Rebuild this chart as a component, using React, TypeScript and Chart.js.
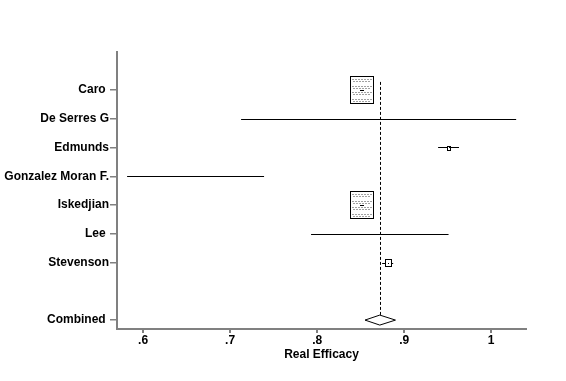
import React, { useEffect, useRef } from "react";
import { Chart, registerables } from "chart.js";

Chart.register(...registerables);

const studies = ["Caro ", "De Serres G", "Edmunds", "Gonzalez Moran F.", "Iskedjian", "Lee ", "Stevenson"];
const rows = [1, 2, 3, 4, 5, 6, 7];
const estimates = [0.851, null, 0.951, null, 0.851, null, 0.881];
const lower = [0.846, 0.7126, 0.939, 0.5816, 0.846, 0.793, 0.8747];
const upper = [0.856, 1.0287, 0.963, 0.739, 0.856, 0.951, 0.8874];
const weights = [100, 0, 2, 0, 100, 0, 7];
const combinedLabel = "Combined ";
const combinedRow = 9;
const combinedEst = 0.872;
const combinedLower = 0.855;
const combinedUpper = 0.89;
const xTicks = [0.6, 0.7, 0.8, 0.9, 1.0];
const xTickLabels = [".6", ".7", ".8", ".9", "1"];

const FONT = "'Liberation Sans', Arial, sans-serif";

const forestPlugin = {
  id: "forest",
  afterDatasetsDraw(chart: any) {
    const ctx = chart.ctx;
    const xs = chart.scales.x;
    const ys = chart.scales.y;
    const area = chart.chartArea;
    ctx.save();
    ctx.beginPath();
    ctx.rect(area.left + 1, area.top, area.right - area.left, area.bottom - area.top - 1);
    ctx.clip();
    // dashed reference line
    const xc = Math.round(xs.getPixelForValue(combinedEst)) + 0.5;
    ctx.strokeStyle = "#000";
    ctx.lineWidth = 1;
    ctx.setLineDash([3, 2]);
    ctx.beginPath();
    ctx.moveTo(xc, ys.getPixelForValue(0.72));
    ctx.lineTo(xc, ys.getPixelForValue(combinedRow) - 5);
    ctx.stroke();
    ctx.setLineDash([]);
    // CI lines
    for (let i = 0; i < studies.length; i++) {
      const y = Math.round(ys.getPixelForValue(rows[i])) + 0.5;
      ctx.strokeStyle = "#000";
      ctx.lineWidth = 1;
      ctx.beginPath();
      ctx.moveTo(xs.getPixelForValue(lower[i]), y);
      ctx.lineTo(xs.getPixelForValue(upper[i]), y);
      ctx.stroke();
    }
    // boxes
    for (let i = 0; i < studies.length; i++) {
      const est = estimates[i];
      if (est === null || !weights[i]) continue;
      const y = ys.getPixelForValue(rows[i]);
      const x = xs.getPixelForValue(est);
      const w = Math.max(3, 23 * Math.sqrt(weights[i] / 100));
      const h = w * 1.18;
      const l = Math.round(x - w / 2) + 0.5;
      const t = Math.round(y - h / 2) + 0.5;
      ctx.fillStyle = "#fff";
      ctx.fillRect(l, t, w, h);
      if (w > 15) {
        ctx.strokeStyle = "#444";
        ctx.setLineDash([1, 2]);
        const n = 4;
        for (let k = 0; k < n; k++) {
          const yy = Math.round(t + (h * (k + 0.5)) / n) + 0.5;
          ctx.beginPath();
          ctx.moveTo(l + 2, yy - 1);
          ctx.lineTo(l + w - 2, yy - 1);
          ctx.stroke();
          ctx.beginPath();
          ctx.moveTo(l + 3, yy + 1);
          ctx.lineTo(l + w - 2, yy + 1);
          ctx.stroke();
        }
        ctx.setLineDash([]);
      }
      ctx.strokeStyle = "#000";
      ctx.lineWidth = 1;
      ctx.strokeRect(l, t, Math.round(w), Math.round(h));
      // centre mark
      ctx.fillStyle = "#000";
      if (w > 15) ctx.fillRect(Math.round(x) - 2, Math.round(y), 4, 1);
      else ctx.fillRect(Math.round(x), Math.round(y), 1, 1);
    }
    // diamond
    const yd = ys.getPixelForValue(combinedRow);
    ctx.strokeStyle = "#000";
    ctx.fillStyle = "#fff";
    ctx.beginPath();
    ctx.moveTo(xs.getPixelForValue(combinedLower), yd);
    ctx.lineTo(xs.getPixelForValue(combinedEst), yd - 5);
    ctx.lineTo(xs.getPixelForValue(combinedUpper), yd);
    ctx.lineTo(xs.getPixelForValue(combinedEst), yd + 5);
    ctx.closePath();
    ctx.fill();
    ctx.stroke();
    ctx.restore();
  },
};

export default function App() {
  const ref = useRef<HTMLCanvasElement>(null);
  useEffect(() => {
    const yLabelFor = (v: number) => {
      const idx = rows.indexOf(v);
      if (idx >= 0) return studies[idx];
      if (v === combinedRow) return combinedLabel;
      return "";
    };
    const chart = new Chart(ref.current!, {
      type: "scatter",
      data: { datasets: [{ data: [], pointRadius: 0 }] },
      plugins: [forestPlugin],
      options: {
        animation: false,
        responsive: false,
        devicePixelRatio: 1,
        layout: { padding: { left: 0, right: 40, top: 52, bottom: 19 } },
        plugins: { legend: { display: false }, tooltip: { enabled: false } },
        scales: {
          x: {
            type: "linear",
            min: 0.57,
            max: 1.04,
            afterBuildTicks: (s: any) => {
              s.ticks = xTicks.map((v) => ({ value: v }));
            },
            afterFit: (s: any) => {
              s.height = 33;
            },
            grid: { drawOnChartArea: false, drawTicks: true, tickLength: 4, color: "#808080", lineWidth: 2 },
            border: { display: true, color: "#808080", width: 2 },
            ticks: {
              color: "#000",
              padding: 0,
              maxRotation: 0,
              font: { family: FONT, size: 12, weight: "bold" },
              callback: (v: any) => {
                const i = xTicks.findIndex((t) => Math.abs(t - v) < 1e-9);
                return i >= 0 ? xTickLabels[i] : "";
              },
            },
            title: {
              display: true,
              text: "Real Efficacy",
              color: "#000",
              padding: { top: 0, bottom: 0 },
              font: { family: FONT, size: 12, weight: "bold" },
            },
          },
          y: {
            type: "linear",
            reverse: true,
            min: -0.32,
            max: 9.31,
            afterBuildTicks: (s: any) => {
              s.ticks = [...rows, combinedRow].map((v) => ({ value: v }));
            },
            afterFit: (s: any) => {
              s.width = 117;
            },
            grid: { drawOnChartArea: false, drawTicks: true, tickLength: 7, color: "#808080", lineWidth: 1.5 },
            border: { display: true, color: "#808080", width: 2 },
            ticks: {
              color: "#000",
              padding: 1,
              autoSkip: false,
              font: { family: FONT, size: 12, weight: "bold" },
              callback: (v: any) => yLabelFor(v),
            },
          },
        },
      },
    } as any);
    return () => chart.destroy();
  }, []);
  return (
    <div style={{ position: "fixed", left: 0, top: 0, width: 566, height: 381, background: "#fff" }}>
      <canvas ref={ref} width={566} height={381} style={{ width: 566, height: 381 }} />
    </div>
  );
}
